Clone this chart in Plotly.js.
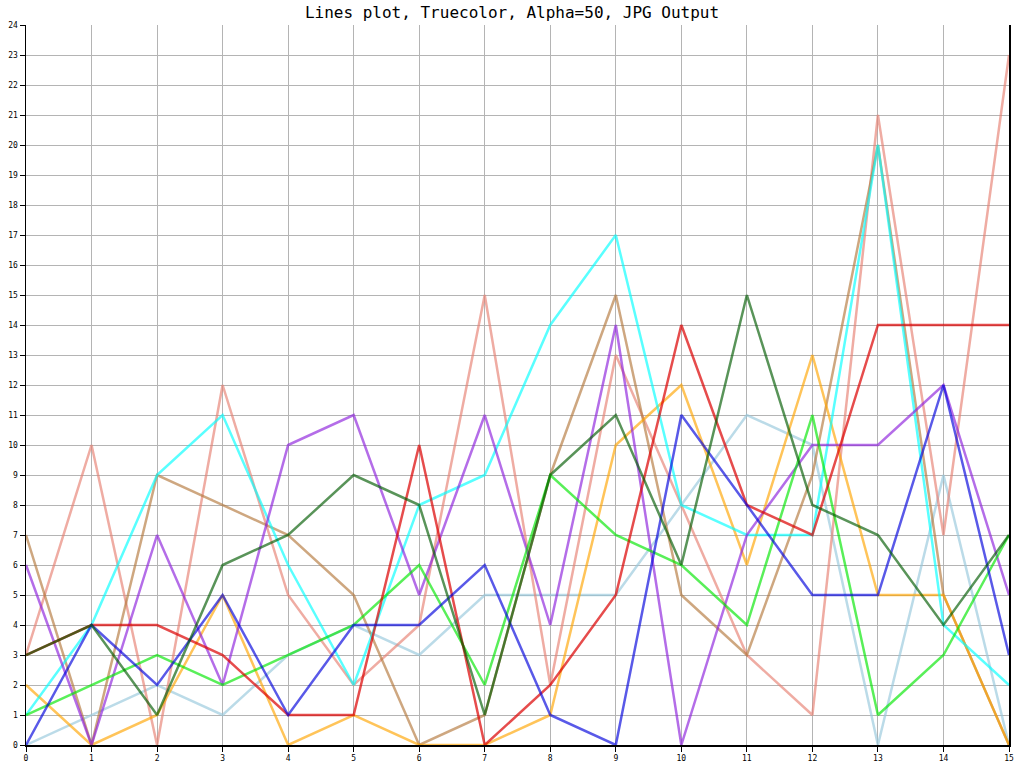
<!DOCTYPE html>
<html>
<head>
<meta charset="utf-8">
<script src="https://cdn.plot.ly/plotly-3.0.1.min.js"></script>
<style>html,body{margin:0;padding:0;background:#fff;}#chart{width:1024px;height:768px;}</style>
</head>
<body>
<div id="chart"></div>
<script>
const xValues = [0,1,2,3,4,5,6,7,8,9,10,11,12,13,14,15];
const red        = [3,4,4,3,1,1,10,0,2,5,14,8,7,14,14,14];
const lightGreen = [1,2,3,2,3,4,6,2,9,7,6,4,11,1,3,7];
const blue       = [0,4,2,5,1,4,4,6,1,0,11,8,5,5,12,3];
const cyan       = [1,4,9,11,6,2,8,9,14,17,8,7,7,20,4,2];
const purple     = [6,0,7,2,10,11,5,11,4,14,0,7,10,10,12,5];
const orange     = [2,0,1,5,0,1,0,0,1,10,12,6,13,5,5,0];
const salmon     = [3,10,0,12,5,2,4,15,2,13,8,3,1,21,7,23];
const tan        = [7,0,9,8,7,5,0,1,9,15,5,3,9,20,5,0];
const darkGreen  = [3,4,1,6,7,9,8,1,9,11,6,15,8,7,4,7];
const lightBlue  = [0,1,2,1,3,4,3,5,5,5,8,11,10,0,9,0];
const yTicks = [0,1,2,3,4,5,6,7,8,9,10,11,12,13,14,15,16,17,18,19,20,21,22,23,24];

const seriesList = [
  [lightBlue,  'rgba(150,200,220,0.65)'],
  [salmon,     'rgba(230,128,114,0.65)'],
  [tan,        'rgba(180,120,60,0.65)'],
  [orange,     'rgba(255,165,0,0.65)'],
  [cyan,       'rgba(0,255,255,0.65)'],
  [purple,     'rgba(140,30,220,0.65)'],
  [lightGreen, 'rgba(0,230,0,0.65)'],
  [red,        'rgba(220,0,0,0.7)'],
  [blue,       'rgba(0,0,220,0.65)'],
  [darkGreen,  'rgba(0,90,0,0.65)']
];

const traces = seriesList.map(s => ({
  x: xValues, y: s[0], type: 'scatter', mode: 'lines',
  line: {color: s[1], width: 2.5}, hoverinfo: 'skip', showlegend: false
}));

const layout = {
  width: 1024, height: 768,
  margin: {l: 26, r: 15, t: 25, b: 23},
  paper_bgcolor: '#ffffff', plot_bgcolor: '#ffffff',
  title: {text: 'Lines plot, Truecolor, Alpha=50, JPG Output',
    font: {family: 'DejaVu Sans Mono, monospace', size: 16, color: '#000'},
    x: 0.5, xanchor: 'center', y: 0.984, yanchor: 'middle'},
  xaxis: {range: [0, 15], tickmode: 'array', tickvals: xValues, ticktext: xValues.map(String),
    showgrid: true, gridcolor: '#b4b4b4', gridwidth: 1,
    showline: true, linecolor: '#000', linewidth: 1.5, zeroline: false,
    ticks: 'outside', ticklen: 5, tickcolor: '#000', tickwidth: 1,
    tickfont: {family: 'DejaVu Sans Mono, monospace', size: 8, color: '#000'}, fixedrange: true},
  yaxis: {range: [0, 24], tickmode: 'array', tickvals: yTicks, ticktext: yTicks.map(String),
    showgrid: true, gridcolor: '#b4b4b4', gridwidth: 1,
    showline: true, mirror: true, linecolor: '#000', linewidth: 1.5, zeroline: false,
    ticks: 'outside', ticklen: 5, tickcolor: '#000', tickwidth: 1,
    tickfont: {family: 'DejaVu Sans Mono, monospace', size: 8, color: '#000'}, fixedrange: true}
};

Plotly.newPlot('chart', traces, layout, {staticPlot: true, displayModeBar: false});
</script>
</body>
</html>
